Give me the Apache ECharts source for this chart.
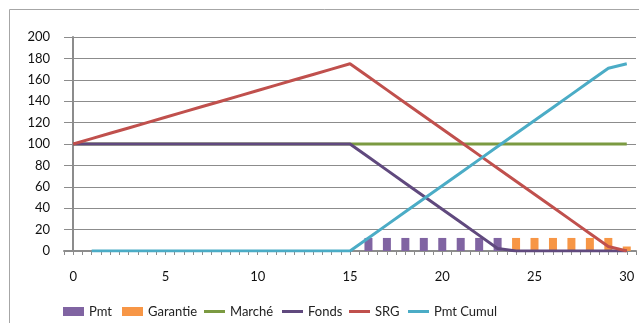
<!DOCTYPE html>
<html>
<head>
<meta charset="utf-8">
<script src="https://cdn.jsdelivr.net/npm/echarts@6/dist/echarts.min.js"></script>
<style>
  html, body { margin: 0; padding: 0; background: #fff; }
  #chart { width: 639px; height: 323px; }
</style>
</head>
<body>
<div id="chart"></div>
<script>
// Periods 0..30
const periods = [0,1,2,3,4,5,6,7,8,9,10,11,12,13,14,15,16,17,18,19,20,21,22,23,24,25,26,27,28,29,30];
const xTickLabels = [0, 5, 10, 15, 20, 25, 30];
const yTickLabels = [0, 20, 40, 60, 80, 100, 120, 140, 160, 180, 200];
const seriesNames = ['Pmt', 'Garantie', 'Marché', 'Fonds', 'SRG', 'Pmt Cumul'];

// Payments drawn from the fund (periods 16..23) and from the guarantee (24..30)
const pmt      = [null,null,null,null,null,null,null,null,null,null,null,null,null,null,null,null,
                  12.2,12.2,12.2,12.2,12.2,12.2,12.2,12.2,
                  null,null,null,null,null,null,null];
const garantie = [null,null,null,null,null,null,null,null,null,null,null,null,null,null,null,null,
                  null,null,null,null,null,null,null,null,
                  12.2,12.2,12.2,12.2,12.2,12.2,4.2];
const marche   = [100,100,100,100,100,100,100,100,100,100,100,100,100,100,100,100,
                  100,100,100,100,100,100,100,100,100,100,100,100,100,100,100];
const fonds    = [100,100,100,100,100,100,100,100,100,100,100,100,100,100,100,100,
                  87.8,75.6,63.4,51.2,39,26.8,14.6,2.4,0,0,0,0,0,0,0];
const srg      = [100,105,110,115,120,125,130,135,140,145,150,155,160,165,170,175,
                  162.8,150.6,138.4,126.2,114,101.8,89.6,77.4,65.2,53,40.8,28.6,16.4,4.2,0];
const pmtCumul = [null,0,0,0,0,0,0,0,0,0,0,0,0,0,0,0,
                  12.2,24.4,36.6,48.8,61,73.2,85.4,97.6,109.8,122,134.2,146.4,158.6,170.8,175];

const pairs = arr => periods.map((p, i) => [p, arr[i]]);

const FONT = 'Lato, "Open Sans", sans-serif';
const colors = {
  'Pmt': '#8064a2', 'Garantie': '#f79646', 'Marché': '#7b9a41',
  'Fonds': '#60497e', 'SRG': '#c0504d', 'Pmt Cumul': '#4bacc6'
};

// One legend per entry so each key sits at its own spot in the row
const legendLeft = [58, 117, 199, 277, 344, 403];
const lineIcon = 'path://M0,0 L21,0 L21,3 L0,3 Z';
const legends = seriesNames.map((name, i) => ({
  left: legendLeft[i], top: 300,
  itemWidth: 21, itemHeight: 9,
  symbolKeepAspect: true,
  selectedMode: false,
  textStyle: { fontFamily: FONT, fontSize: 13, color: '#222' },
  data: [{ name: name, icon: i < 2 ? 'rect' : lineIcon, itemStyle: { color: colors[name] } }]
}));

const chart = echarts.init(document.getElementById('chart'), null, { renderer: 'canvas' });

chart.setOption({
  animation: false,
  backgroundColor: '#ffffff',
  textStyle: { fontFamily: FONT },
  graphic: [{
    type: 'rect',
    shape: { x: 9.5, y: 9.5, width: 700, height: 400 },
    style: { fill: 'none', stroke: '#a6a6a6', lineWidth: 1 },
    silent: true
  }],
  grid: { left: 64, right: 2, top: 37, bottom: 72, containLabel: false },
  legend: legends,
  xAxis: {
    type: 'value',
    min: -0.5, max: 30.5, interval: 0.5,
    axisLine: { show: true, lineStyle: { color: '#8c8c8c', width: 2 } },
    axisTick: { show: true, length: 4, lineStyle: { color: '#8c8c8c', width: 1 } },
    splitLine: { show: false },
    axisLabel: {
      margin: 19, fontSize: 13, color: '#111', fontFamily: FONT,
      formatter: v => xTickLabels.indexOf(v) >= 0 ? String(v) : ''
    }
  },
  yAxis: {
    type: 'value',
    min: 0, max: 200, interval: 20,
    axisLine: { show: true, lineStyle: { color: '#8c8c8c', width: 2 } },
    axisTick: { show: false },
    splitLine: { show: true, lineStyle: { color: '#8c8c8c', width: 1 } },
    axisLabel: {
      margin: 14, fontSize: 13, color: '#111', fontFamily: FONT,
      formatter: v => yTickLabels.indexOf(v) >= 0 ? String(v) : ''
    }
  },
  series: [
    { name: 'Pmt', type: 'bar', stack: 'pay', barWidth: 8, data: pairs(pmt),
      itemStyle: { color: colors['Pmt'] } },
    { name: 'Garantie', type: 'bar', stack: 'pay', barWidth: 8, data: pairs(garantie),
      itemStyle: { color: colors['Garantie'] } },
    { name: 'Marché', type: 'line', symbol: 'none', data: pairs(marche),
      lineStyle: { color: colors['Marché'], width: 3 }, itemStyle: { color: colors['Marché'] } },
    { name: 'Fonds', type: 'line', symbol: 'none', data: pairs(fonds),
      lineStyle: { color: colors['Fonds'], width: 3 }, itemStyle: { color: colors['Fonds'] } },
    { name: 'SRG', type: 'line', symbol: 'none', data: pairs(srg),
      lineStyle: { color: colors['SRG'], width: 3 }, itemStyle: { color: colors['SRG'] } },
    { name: 'Pmt Cumul', type: 'line', symbol: 'none', data: pairs(pmtCumul),
      lineStyle: { color: colors['Pmt Cumul'], width: 3 }, itemStyle: { color: colors['Pmt Cumul'] } }
  ]
});
</script>
</body>
</html>
